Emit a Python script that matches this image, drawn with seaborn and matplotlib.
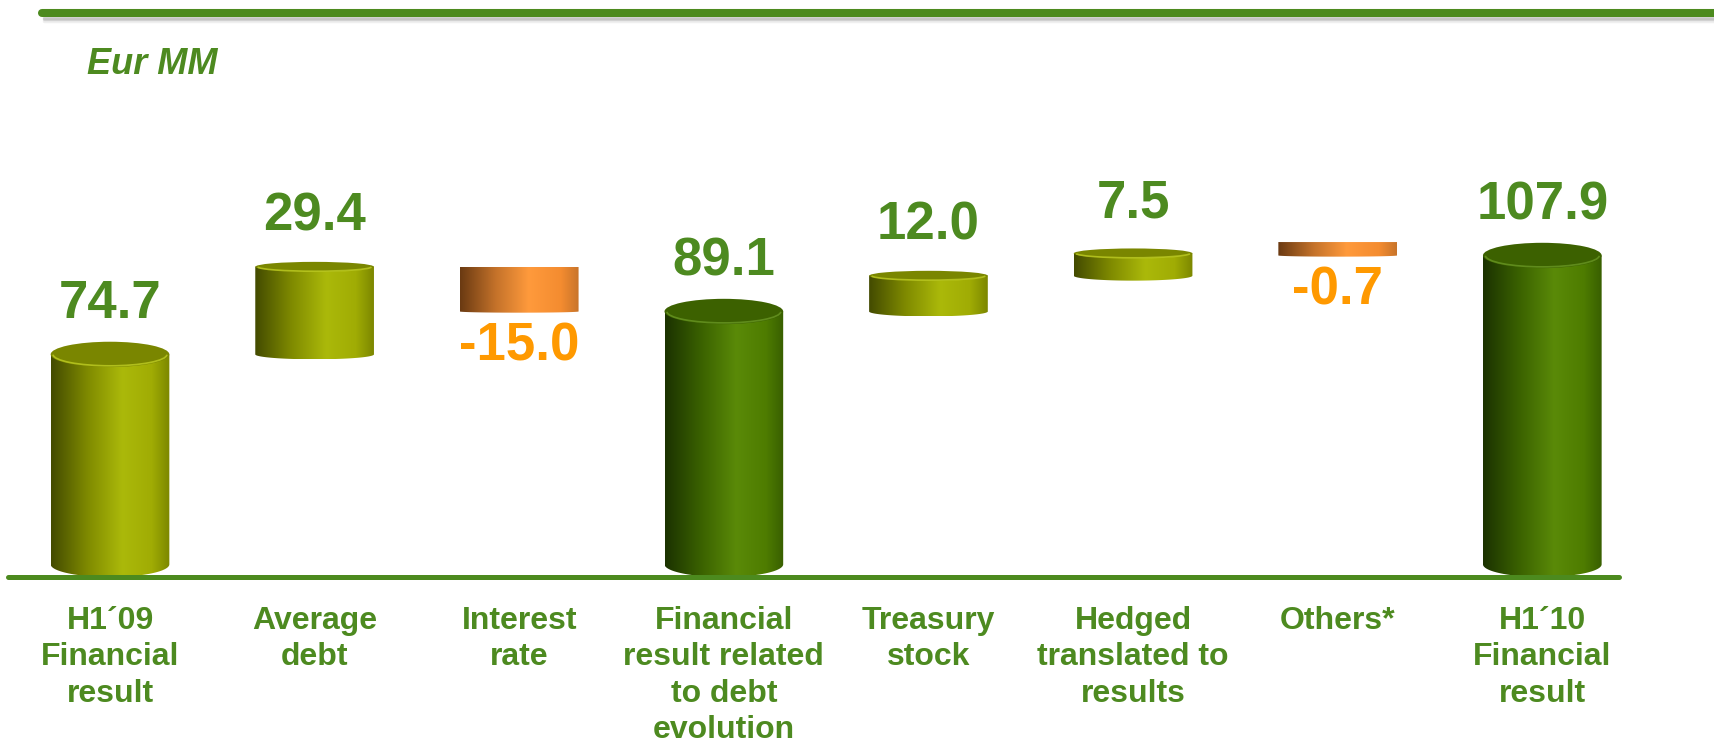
import numpy as np
import matplotlib
matplotlib.use("Agg")
import matplotlib.pyplot as plt
import seaborn as sns
from matplotlib.colors import LinearSegmentedColormap
from matplotlib.patches import Ellipse, Arc
from matplotlib.path import Path
from matplotlib.lines import Line2D

# Chart data (Eur MM)
categories = ["H1´09\nFinancial\nresult", "Average\ndebt", "Interest\nrate",
              "Financial\nresult related\nto debt\nevolution", "Treasury\nstock",
              "Hedged\ntranslated to\nresults", "Others*", "H1´10\nFinancial\nresult"]
values = [74.7, 29.4, -15.0, 89.1, 12.0, 7.5, -0.7, 107.9]
kinds = ["start", "delta", "delta", "subtotal", "delta", "delta", "delta", "end"]
value_labels = ["74.7", "29.4", "-15.0", "89.1", "12.0", "7.5", "-0.7", "107.9"]
unit_label = "Eur MM"

GREEN = "#4d8a20"
ORANGE = "#ff9900"

# waterfall bottoms / tops
bottoms, tops = [], []
running = 0.0
for v, k in zip(values, kinds):
    if k in ("start", "subtotal", "end"):
        bottoms.append(0.0)
        tops.append(v)
        running = v
    else:
        bottoms.append(running)
        running += v
        tops.append(running)
heights = [t - b for t, b in zip(tops, bottoms)]

schemes = {
    "olive": dict(stops=[(0, "#434b00"), (0.3, "#7e8900"), (0.6, "#abb90a"),
                         (0.85, "#a0ac04"), (1, "#7c8700")],
                  top="#7a8600", rim="#c8d628"),
    "green": dict(stops=[(0, "#1b3200"), (0.3, "#3a6100"), (0.6, "#5a8a08"),
                         (0.85, "#4e7c00"), (1, "#385f00")],
                  top="#3c6100", rim="#6f9e28"),
    "orange": dict(stops=[(0, "#6a3a12"), (0.3, "#c4722a"), (0.58, "#ff9a3c"),
                          (0.85, "#f48c30"), (1, "#c8742a")],
                   top="#d98236", rim=None),
}


def scheme_for(kind, value):
    if value < 0:
        return "orange"
    if kind in ("subtotal", "end"):
        return "green"
    return "olive"


sns.set_style("white")
plt.rcParams["font.family"] = ["Liberation Sans", "DejaVu Sans"]

fig = plt.figure(figsize=(17.15, 7.49), dpi=100)
ax = fig.add_axes([0, 172 / 749, 1, 577 / 749])

px_per_unit = 2.98
xlim = (-0.5376, 7.844)
ylim = (0, 577 / px_per_unit)

palette = [schemes[scheme_for(k, v)]["top"] for k, v in zip(kinds, values)]
sns.barplot(x=categories, y=heights, hue=categories, palette=palette,
            width=0.58, legend=False, ax=ax)

patches = sorted(ax.patches, key=lambda p: p.get_x())
grad = np.linspace(0, 1, 256).reshape(1, -1)
min_visible = 4.5  # tiny bars still get a visible slab

for i, p in enumerate(patches):
    b, t = bottoms[i], tops[i]
    p.set_y(b)
    p.set_height(t - b)
    p.set_visible(False)
    hi, lo = max(b, t), min(b, t)
    if hi - lo < min_visible:
        hi = lo + min_visible
    x0, w = p.get_x(), p.get_width()
    x1, xc = x0 + w, x0 + w / 2
    sc = schemes[scheme_for(kinds[i], values[i])]
    if kinds[i] in ("start", "subtotal", "end"):
        eh = 8.5
    elif values[i] > 0:
        eh = 3.3
    else:
        eh = 0.8
    yb = lo + eh / 2 if lo == 0 else lo
    tt = np.linspace(np.pi, 2 * np.pi, 60)
    arc_x = xc + w / 2 * np.cos(tt)
    arc_y = yb + eh / 2 * np.sin(tt)
    verts = [(x0, hi), (x0, yb)] + list(zip(arc_x, arc_y)) + [(x1, hi), (x0, hi)]
    codes = [Path.MOVETO] + [Path.LINETO] * (len(verts) - 2) + [Path.CLOSEPOLY]
    body = Path(verts, codes)
    cmap = LinearSegmentedColormap.from_list(f"c{i}", sc["stops"])
    im = ax.imshow(grad, cmap=cmap, extent=[x0, x1, yb - eh / 2, hi],
                   aspect="auto", origin="lower", zorder=2, interpolation="bilinear")
    im.set_clip_path(body, ax.transData)
    if sc["rim"] is not None:
        ax.add_patch(Ellipse((xc, hi), w, eh, facecolor=sc["top"], edgecolor="none", zorder=3))
        ax.add_patch(Arc((xc, hi), w * 0.96, eh * 0.9, theta1=200, theta2=340,
                         color=sc["rim"], lw=1.2, alpha=0.7, zorder=3.5))

    if values[i] >= 0:
        ax.annotate(value_labels[i], (xc, hi), xytext=(0, 26), textcoords="offset points",
                    ha="center", va="baseline", fontsize=38, fontweight="bold", color=GREEN)
    else:
        ax.annotate(value_labels[i], (xc, lo), xytext=(0, -7), textcoords="offset points",
                    ha="center", va="top", fontsize=38, fontweight="bold", color=ORANGE)

ax.set_xlim(*xlim)
ax.set_ylim(*ylim)
ax.set_yticks([])
ax.set_ylabel("")
for s in ax.spines.values():
    s.set_visible(False)
ax.tick_params(axis="x", length=0, pad=21, labelsize=23, labelcolor=GREEN)
plt.setp(ax.get_xticklabels(), fontweight="bold", linespacing=1.27)

# baseline
ax.axhline(0, xmin=8 / 1715, xmax=1619 / 1715, color="#4c8a1e", lw=3.6,
           zorder=4, clip_on=False)

# header rule with soft shadow
for dy, a in [(21, 0.12), (19, 0.2), (17.5, 0.3)]:
    fig.add_artist(Line2D([44 / 1715, 1], [1 - dy / 749] * 2, transform=fig.transFigure,
                          color="#808080", lw=2.5, alpha=a))
fig.add_artist(Line2D([42 / 1715, 1], [1 - 12.5 / 749] * 2, transform=fig.transFigure,
                      color="#4c8a1e", lw=5.8))
fig.text(87 / 1715, 1 - 74 / 749, unit_label, fontsize=26, fontweight="bold",
         fontstyle="italic", color=GREEN, va="baseline")

fig.savefig("out.png", dpi=100)
